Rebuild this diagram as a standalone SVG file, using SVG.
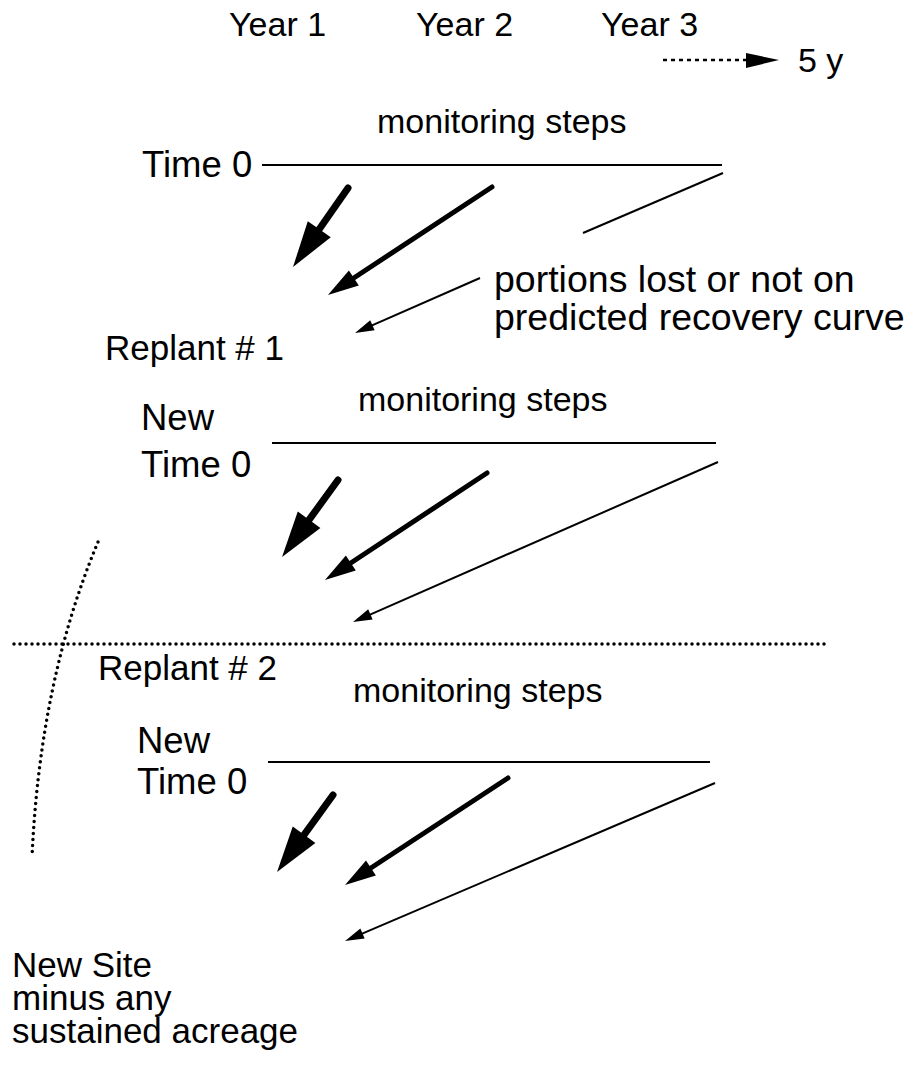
<svg xmlns="http://www.w3.org/2000/svg" width="911" height="1067" viewBox="0 0 911 1067">
<style>
text{font-family:"Liberation Sans",Arial,Helvetica,sans-serif;font-size:34px;fill:#000}
.big{font-size:37.5px}
.lab{font-size:36.5px}
.rep{font-size:35px}
.site{font-size:35px}
.base{stroke:#000;stroke-width:2;fill:none}
.thick{stroke:#000;stroke-width:7;stroke-linecap:round;fill:none}
.med{stroke:#000;stroke-width:5;stroke-linecap:round;fill:none}
.thin{stroke:#000;stroke-width:2;fill:none}
.dots{stroke:#000;stroke-width:3.5;stroke-linecap:round;stroke-dasharray:0 6;fill:none}
</style>
<defs>
<marker id="hThick" markerUnits="userSpaceOnUse" markerWidth="48" markerHeight="30" refX="1" refY="14" orient="auto" overflow="visible"><path d="M0,0 L46,14 L0,28 Z" fill="#000"/></marker>
<marker id="hMed" markerUnits="userSpaceOnUse" markerWidth="32" markerHeight="20" refX="1" refY="9" orient="auto" overflow="visible"><path d="M0,0 L31,9 L0,18 Z" fill="#000"/></marker>
<marker id="hThin" markerUnits="userSpaceOnUse" markerWidth="20" markerHeight="12" refX="1" refY="5.5" orient="auto" overflow="visible"><path d="M0,0 L19,5.5 L0,11 Z" fill="#000"/></marker>
</defs>
<rect width="911" height="1067" fill="#fff"/>

<g id="header">
<text x="229" y="36">Year 1</text>
<text x="416" y="36">Year 2</text>
<text x="601" y="36">Year 3</text>
<line x1="663" y1="60" x2="746" y2="60" stroke="#000" stroke-width="2.5" stroke-dasharray="4 4"/>
<path d="M746,53 L779,60 L746,68 Z" fill="#000"/>
<text x="798" y="72">5 y</text>
</g>

<g id="stage0">
<text x="377" y="133">monitoring steps</text>
<text class="lab" x="142" y="177">Time 0</text>
<line class="base" x1="262" y1="165" x2="722" y2="165"/>
</g>

<g id="note">
<text class="big" x="494" y="292">portions lost or not on</text>
<text class="big" x="494" y="330">predicted recovery curve</text>
</g>

<g id="replant1">
<text class="rep" x="105" y="360">Replant # 1</text>
<text x="358" y="411">monitoring steps</text>
<text class="lab" x="141" y="430">New</text>
<text class="lab" x="141" y="477">Time 0</text>
<line class="base" x1="272" y1="443" x2="716" y2="443"/>
</g>

<g id="replant2">
<text class="rep" x="98" y="680">Replant # 2</text>
<text x="353" y="702">monitoring steps</text>
<text class="lab" x="137" y="753">New</text>
<text class="lab" x="137" y="794">Time 0</text>
<line class="base" x1="268" y1="762" x2="710" y2="762"/>
</g>

<g id="newsite">
<text class="site" x="12" y="977">New Site</text>
<text class="site" x="12" y="1010">minus any</text>
<text class="site" x="12" y="1043">sustained acreage</text>
</g>

<g id="connectors">
<line class="thick" x1="348" y1="188" x2="318.7" y2="230.1" marker-end="url(#hThick)"/>
<line class="med" x1="492" y1="187" x2="353" y2="278.5" marker-end="url(#hMed)"/>
<line class="thin" x1="723" y1="173" x2="583" y2="233"/>
<line class="thin" x1="480" y1="278" x2="371.5" y2="325.7" marker-end="url(#hThin)"/>

<line class="thick" x1="338" y1="480" x2="308.5" y2="520.6" marker-end="url(#hThick)"/>
<line class="med" x1="487" y1="473" x2="350" y2="563.5" marker-end="url(#hMed)"/>
<line class="thin" x1="718" y1="462" x2="369.5" y2="614.8" marker-end="url(#hThin)"/>

<line class="thick" x1="333" y1="795" x2="303.5" y2="835.6" marker-end="url(#hThick)"/>
<line class="med" x1="508" y1="778" x2="370.1" y2="868.5" marker-end="url(#hMed)"/>
<line class="thin" x1="715" y1="783" x2="361.6" y2="933.9" marker-end="url(#hThin)"/>

<line class="dots" x1="14" y1="644" x2="825" y2="644"/>
<path class="dots" d="M98,542 Q40,680 32,857"/>
</g>
</svg>
